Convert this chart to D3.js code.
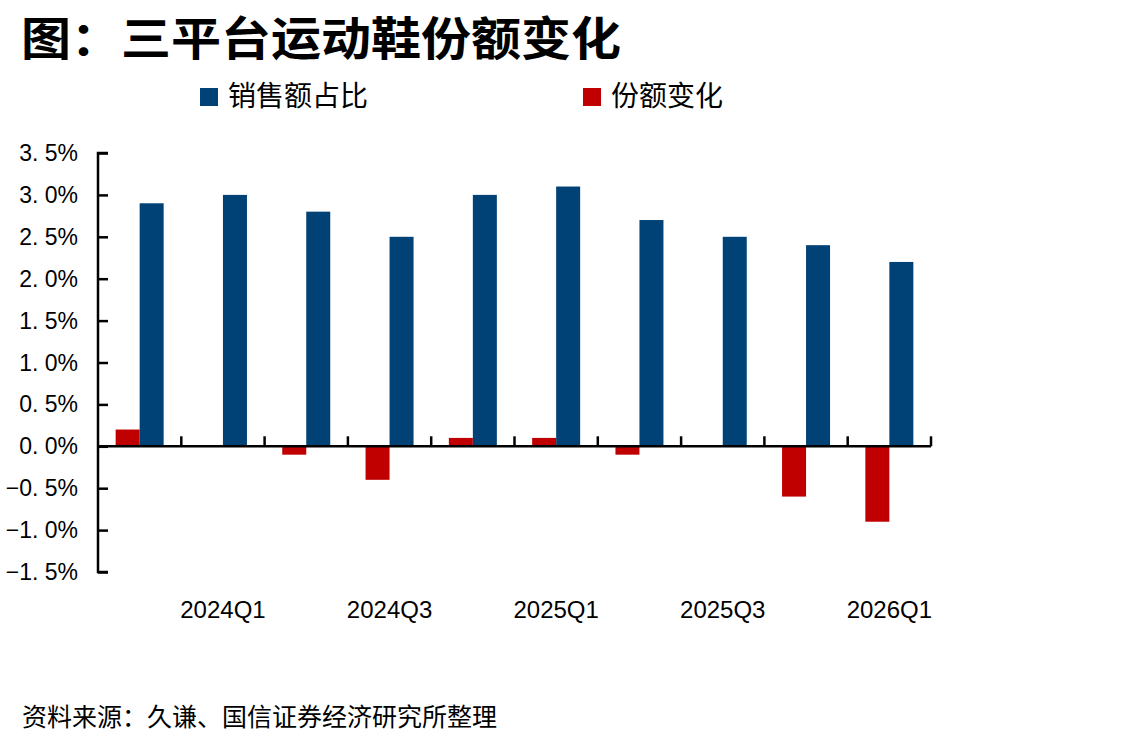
<!DOCTYPE html>
<html>
<head>
<meta charset="utf-8">
<script src="https://cdn.jsdelivr.net/npm/d3@7"></script>
<style>
  body { margin: 0; background: #fff; }
  text { font-family: "Noto Sans CJK SC", sans-serif; fill: #000; }
  .axis-num { font-family: "Liberation Sans", Arial, sans-serif; }
  .x-lab { font-family: "Liberation Sans Narrow", "Liberation Sans", sans-serif; }
</style>
</head>
<body>
<svg id="chart" width="1144" height="745"></svg>
<script>
// quarters shown on the x axis (every other label is printed)
const quarters = ['2023Q4', '2024Q1', '2024Q2', '2024Q3', '2024Q4',
  '2025Q1', '2025Q2', '2025Q3', '2025Q4', '2026Q1']
const shownQuarters = ['2024Q1', '2024Q3', '2025Q1', '2025Q3', '2026Q1']
// sales share, percent
const salesShare = [2.9, 3.0, 2.8, 2.5, 3.0, 3.1, 2.7, 2.5, 2.4, 2.2]
// change in share, percent
const shareChange = [0.2, 0.0, -0.1, -0.4, 0.1, 0.1, -0.1, 0.0, -0.6, -0.9]
const yTicks = [-1.5, -1.0, -0.5, 0, 0.5, 1.0, 1.5, 2.0, 2.5, 3.0, 3.5]
const seriesNames = ['销售额占比', '份额变化']
const colors = ['#004276', '#C00000']

const svg = d3.select('#chart')
const margin = { left: 98, right: 1144 - 931, top: 153, bottom: 745 - 572 }

const x = d3.scaleBand()
  .domain(quarters)
  .range([margin.left, 931])
  .paddingInner(0)
  .paddingOuter(0)

const y = d3.scaleLinear()
  .domain([-1.5, 3.5])
  .range([572, 153])

// title
svg.append('text')
  .attr('x', 21)
  .attr('y', 55)
  .attr('font-size', 46)
  .attr('font-weight', 'bold')
  .attr('textLength', 600)
  .attr('lengthAdjust', 'spacingAndGlyphs')
  .text('图：三平台运动鞋份额变化')

// legend
const legendX = [200, 583]
seriesNames.forEach((name, i) => {
  svg.append('rect')
    .attr('x', legendX[i])
    .attr('y', 88)
    .attr('width', 18)
    .attr('height', 18)
    .attr('fill', colors[i])
  svg.append('text')
    .attr('x', legendX[i] + 28)
    .attr('y', 106)
    .attr('font-size', 28)
    .text(name)
})

// bars
const barW = 24
const offset = (x.bandwidth() - 2 * barW) / 2
const g = svg.append('g')

g.selectAll('rect.change')
  .data(shareChange)
  .join('rect')
  .attr('class', 'change')
  .attr('x', (d, i) => x(quarters[i]) + offset)
  .attr('y', d => y(Math.max(0, d)))
  .attr('width', barW)
  .attr('height', d => Math.abs(y(d) - y(0)))
  .attr('fill', colors[1])

g.selectAll('rect.share')
  .data(salesShare)
  .join('rect')
  .attr('class', 'share')
  .attr('x', (d, i) => x(quarters[i]) + offset + barW)
  .attr('y', d => y(d))
  .attr('width', barW)
  .attr('height', d => y(0) - y(d))
  .attr('fill', colors[0])

// y axis
const fmt = v => {
  const s = Math.abs(v).toFixed(1).replace('.', '. ') + '%'
  return (v < 0 ? '\u2212' : '') + s
}
const yAxis = svg.append('g')
  .attr('transform', 'translate(' + margin.left + ',0)')
  .call(d3.axisRight(y).tickValues(yTicks).tickSize(10).tickFormat(''))
yAxis.select('.domain').attr('stroke', '#000').attr('stroke-width', 2.5)
  .attr('d', 'M10,' + y(3.5) + 'H0V' + y(-1.5) + 'H10')
yAxis.selectAll('.tick line').attr('stroke', '#000').attr('stroke-width', 2.5)

svg.append('g').selectAll('text')
  .data(yTicks)
  .join('text')
  .attr('class', 'axis-num')
  .attr('x', 78)
  .attr('y', d => y(d) + 8)
  .attr('text-anchor', 'end')
  .attr('font-size', 23)
  .text(fmt)

// x axis at zero, ticks between categories pointing up
const boundaries = quarters.map(q => x(q) + x.bandwidth())
svg.append('line')
  .attr('x1', margin.left)
  .attr('x2', 931)
  .attr('y1', y(0))
  .attr('y2', y(0))
  .attr('stroke', '#000')
  .attr('stroke-width', 2.5)
svg.append('g').selectAll('line')
  .data(boundaries)
  .join('line')
  .attr('x1', d => d)
  .attr('x2', d => d)
  .attr('y1', y(0))
  .attr('y2', y(0) - 10)
  .attr('stroke', '#000')
  .attr('stroke-width', 2.5)

svg.append('g').selectAll('text')
  .data(shownQuarters)
  .join('text')
  .attr('class', 'x-lab')
  .attr('x', d => x(d) + x.bandwidth() / 2)
  .attr('y', 618)
  .attr('text-anchor', 'middle')
  .attr('font-size', 24)
  .text(d => d)

// source note
svg.append('text')
  .attr('x', 22)
  .attr('y', 726)
  .attr('font-size', 25)
  .text('资料来源：久谦、国信证券经济研究所整理')
</script>
</body>
</html>
